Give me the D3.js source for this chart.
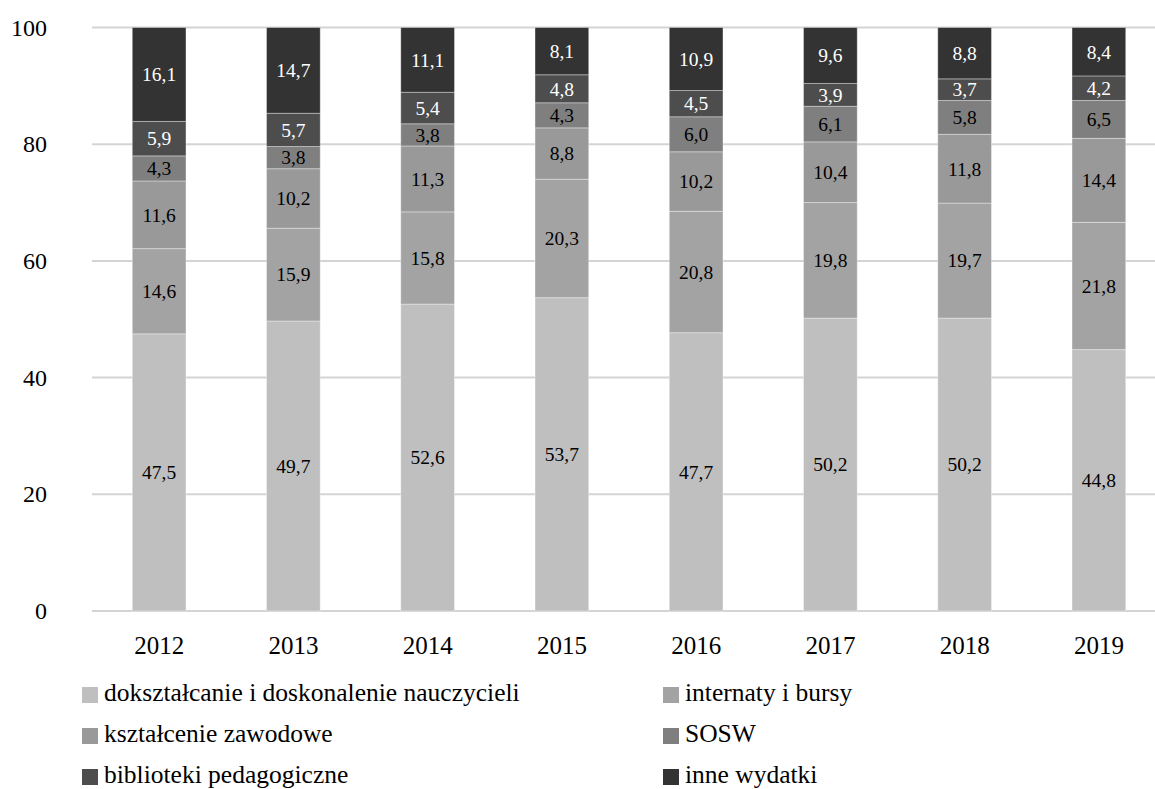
<!DOCTYPE html>
<html>
<head>
<meta charset="utf-8">
<script src="https://cdn.jsdelivr.net/npm/d3@7"></script>
<style>
  html, body { margin: 0; padding: 0; background: #fff; }
  svg { display: block; }
  text { font-family: "Liberation Serif", "DejaVu Serif", serif; }
</style>
</head>
<body>
<svg id="chart" width="1155" height="789"></svg>
<script>
const years = ["2012", "2013", "2014", "2015", "2016", "2017", "2018", "2019"];
const seriesNames = [
  "dokształcanie i doskonalenie nauczycieli",
  "internaty i bursy",
  "kształcenie zawodowe",
  "SOSW",
  "biblioteki pedagogiczne",
  "inne wydatki"
];
const dokształcanie = [47.5, 49.7, 52.6, 53.7, 47.7, 50.2, 50.2, 44.8];
const internaty     = [14.6, 15.9, 15.8, 20.3, 20.8, 19.8, 19.7, 21.8];
const kształcenie   = [11.6, 10.2, 11.3, 8.8, 10.2, 10.4, 11.8, 14.4];
const sosw          = [4.3, 3.8, 3.8, 4.3, 6.0, 6.1, 5.8, 6.5];
const biblioteki    = [5.9, 5.7, 5.4, 4.8, 4.5, 3.9, 3.7, 4.2];
const inne          = [16.1, 14.7, 11.1, 8.1, 10.9, 9.6, 8.8, 8.4];
const yTicks = [0, 20, 40, 60, 80, 100];

const seriesValues = [dokształcanie, internaty, kształcenie, sosw, biblioteki, inne];
const colors = ["#bfbfbf", "#a3a3a3", "#999999", "#7f7f7f", "#4d4d4d", "#333333"];
const labelColors = ["#000", "#000", "#000", "#000", "#fff", "#fff"];

const keys = seriesNames;
const table = years.map((y, i) => {
  const row = { year: y };
  keys.forEach((k, j) => row[k] = seriesValues[j][i]);
  return row;
});

const svg = d3.select("#chart");
const x = d3.scaleBand().domain(years).range([92, 1166]).paddingInner(0.6).paddingOuter(0.3);
const y = d3.scaleLinear().domain([0, 100]).range([611, 27.5]);

// gridlines
svg.append("g").selectAll("line").data(yTicks).join("line")
  .attr("x1", 92).attr("x2", 1155)
  .attr("y1", d => y(d)).attr("y2", d => y(d))
  .attr("stroke", "#d4d4d4").attr("stroke-width", 2);

// y axis labels
const yAxis = d3.axisLeft(y).tickValues(yTicks).tickSize(0).tickPadding(0);
const yg = svg.append("g").attr("transform", "translate(47,0)").call(yAxis);
yg.select(".domain").remove();
yg.selectAll("text").attr("font-size", 24).attr("fill", "#000")
  .attr("font-family", "Liberation Serif").attr("dy", "0.32em");

const stack = d3.stack().keys(keys);
const stacked = stack(table);

const groups = svg.append("g").selectAll("g").data(stacked).join("g")
  .attr("fill", (d, i) => colors[i]);

groups.selectAll("rect").data(d => d).join("rect")
  .attr("x", d => x(d.data.year))
  .attr("width", x.bandwidth())
  .attr("y", d => y(Math.min(d[1], 100)))
  .attr("height", d => y(d[0]) - y(Math.min(d[1], 100)))
  .attr("stroke", "rgba(255,255,255,0.35)")
  .attr("stroke-width", 1);

// labels
const fmt = v => v.toFixed(1).replace(".", ",");
stacked.forEach((s, i) => {
  svg.append("g").selectAll("text").data(s).join("text")
    .attr("x", d => x(d.data.year) + x.bandwidth() / 2)
    .attr("y", d => (y(d[0]) + y(Math.min(d[1], 100))) / 2)
    .attr("dy", "0.35em")
    .attr("text-anchor", "middle")
    .attr("font-size", 19.5)
    .attr("fill", labelColors[i])
    .text(d => fmt(d.data[s.key]));
});

// x axis
const xAxis = d3.axisBottom(x).tickSize(0).tickPadding(0);
const xg = svg.append("g").attr("transform", "translate(0,611)").call(xAxis);
xg.select(".domain").remove();
xg.selectAll("text").attr("font-size", 25).attr("fill", "#000")
  .attr("font-family", "Liberation Serif").attr("dy", null).attr("y", 43);

// legend
const legendPos = [
  [82, 687], [663, 687],
  [82, 728], [663, 728],
  [82, 769], [663, 769]
];
const lg = svg.append("g").selectAll("g").data(keys).join("g")
  .attr("transform", (d, i) => `translate(${legendPos[i][0]},${legendPos[i][1]})`);
lg.append("rect").attr("width", 16).attr("height", 16).attr("fill", (d, i) => colors[i]);
lg.append("text").attr("x", 22).attr("y", 14).attr("font-size", 25.5).attr("fill", "#000")
  .text(d => d);
</script>
</body>
</html>
